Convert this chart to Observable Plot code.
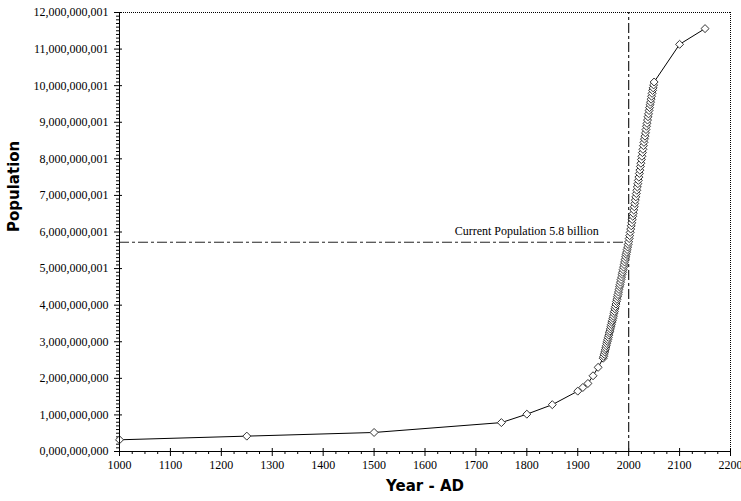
<!DOCTYPE html>
<html>
<head>
<meta charset="utf-8">
<script src="https://cdn.jsdelivr.net/npm/d3@7"></script>
<script src="https://cdn.jsdelivr.net/npm/@observablehq/plot@0.6"></script>
<style>
  html, body { margin: 0; padding: 0; background: #fff; }
  #chart svg { display: block; }
</style>
</head>
<body>
<div id="chart"></div>
<script>
// ---- data (populations in billions) ----
const histYears = [1000, 1250, 1500, 1750, 1800, 1850, 1900, 1910, 1920, 1930, 1940];
const histPop   = [0.32, 0.42, 0.52, 0.79, 1.02, 1.28, 1.65, 1.75, 1.86, 2.07, 2.30];

const annualStart = 1950;
const annualPop = [
  2.55, 2.60, 2.66, 2.72, 2.78, 2.83, 2.89, 2.95, 3.01, 3.06,
  3.12, 3.18, 3.24, 3.29, 3.35, 3.41, 3.47, 3.53, 3.58, 3.64,
  3.70, 3.77, 3.83, 3.90, 3.96, 4.03, 4.10, 4.16, 4.23, 4.29,
  4.36, 4.43, 4.50, 4.56, 4.63, 4.70, 4.77, 4.84, 4.90, 4.97,
  5.04, 5.11, 5.18, 5.25, 5.32, 5.39, 5.45, 5.52, 5.59, 5.66,
  5.73, 5.82, 5.90, 5.99, 6.08, 6.17, 6.25, 6.34, 6.43, 6.51,
  6.60, 6.69, 6.78, 6.87, 6.96, 7.05, 7.14, 7.23, 7.32, 7.41,
  7.50, 7.60, 7.69, 7.79, 7.88, 7.98, 8.07, 8.17, 8.26, 8.36,
  8.45, 8.54, 8.62, 8.71, 8.80, 8.89, 8.97, 9.06, 9.15, 9.23,
  9.32, 9.40, 9.48, 9.55, 9.63, 9.71, 9.79, 9.87, 9.94, 10.02,
  10.10
];

const projYears = [2100, 2150];
const projPop   = [11.13, 11.56];

const xTicks = [1000, 1100, 1200, 1300, 1400, 1500, 1600, 1700, 1800, 1900, 2000, 2100, 2200];
const yTicks = [0, 1e9, 2e9, 3e9, 4e9, 5e9, 6e9, 7e9, 8e9, 9e9, 10e9, 11e9, 12e9];
const yTickLabels = [
  "0,000,000,000", "1,000,000,000", "2,000,000,000", "3,000,000,000", "4,000,000,000",
  "5,000,000,001", "6,000,000,001", "7,000,000,001", "8,000,000,001", "9,000,000,001",
  "10,000,000,001", "11,000,000,001", "12,000,000,001"
];

const currentYear = 2000;
const currentPop = 5.72e9;
const currentLabel = "Current Population 5.8 billion";
const xTitle = "Year - AD";
const yTitle = "Population";

// ---- build table ----
const data = [];
histYears.forEach((yr, i) => data.push({year: yr, pop: histPop[i] * 1e9}));
annualPop.forEach((p, i) => data.push({year: annualStart + i, pop: p * 1e9}));
projYears.forEach((yr, i) => data.push({year: yr, pop: projPop[i] * 1e9}));

const xDomain = [1000, 2200];
const yDomain = [0, 12e9];
const xMinor = d3.range(xDomain[0], xDomain[1] + 1, 25).filter(v => v % 100 !== 0);
const yMinor = d3.range(0, 12e9 + 1, 1e8).filter(v => Math.round(v / 1e8) % 10 !== 0);

const W = 741, H = 501;
const mL = 119, mR = 11, mT = 12, mB = 50;
const pxYear = (W - mL - mR) / (xDomain[1] - xDomain[0]);
const pxPop = (H - mT - mB) / (yDomain[1] - yDomain[0]);

const serif = "'Liberation Serif', 'Times New Roman', serif";
const sans = "'DejaVu Sans', Verdana, sans-serif";

const chart = Plot.plot({
  width: W,
  height: H,
  marginLeft: mL, marginRight: mR, marginTop: mT, marginBottom: mB,
  style: {fontFamily: serif, fontSize: "12px", color: "#000", background: "#fff"},
  x: {domain: xDomain, label: null},
  y: {domain: yDomain, label: null},
  marks: [
    // frame: dotted top/right, solid left/bottom
    Plot.ruleY([12e9], {stroke: "#000", strokeDasharray: "1,1", strokeWidth: 1}),
    Plot.ruleX([2200], {stroke: "#000", strokeDasharray: "1,1", strokeWidth: 1}),
    // minor ticks
    Plot.ruleX(xMinor, {y1: 0, y2: -3 / pxPop, stroke: "#000"}),
    Plot.ruleY(yMinor, {x1: xDomain[0] - 3 / pxYear, x2: xDomain[0], stroke: "#000"}),
    // major ticks, inner part
    Plot.ruleX(xTicks, {y1: 0, y2: 3 / pxPop, stroke: "#000"}),
    Plot.ruleY(yTicks, {x1: xDomain[0], x2: xDomain[0] + 3 / pxYear, stroke: "#000"}),
    Plot.axisX({ticks: xTicks, tickSize: 5, tickPadding: 4, tickFormat: d => String(d), fontSize: 12, label: null}),
    Plot.axisY({ticks: yTicks, tickSize: 5, tickPadding: 6, tickFormat: d => yTickLabels[yTicks.indexOf(d)], fontSize: 12, label: null}),
    // current-population reference lines
    Plot.ruleY([currentPop], {x1: xDomain[0], x2: currentYear, stroke: "#222", strokeDasharray: "10,3,3,3", strokeWidth: 1}),
    Plot.ruleX([currentYear], {y1: 0, y2: 12e9, stroke: "#222", strokeDasharray: "10,3,3,3", strokeWidth: 1.2}),
    Plot.text([currentLabel], {x: currentYear, y: currentPop, text: d => d, textAnchor: "end", dx: -30, dy: -11, fontSize: 12, fontFamily: serif, fill: "#000"}),
    // data
    Plot.line(data, {x: "year", y: "pop", stroke: "#000", strokeWidth: 1}),
    Plot.dot(data, {x: "year", y: "pop", symbol: "diamond2", r: 3.6, fill: "#fff", stroke: "#333", strokeWidth: 1}),
    // axis lines
    Plot.ruleY([0], {stroke: "#000"}),
    Plot.ruleX([xDomain[0]], {stroke: "#000"}),
    // axis titles
    Plot.text([xTitle], {frameAnchor: "bottom", dy: 39, text: d => d, fontSize: 15, fontWeight: "bold", fontFamily: sans, fill: "#000"}),
    Plot.text([yTitle], {frameAnchor: "left", dx: -105, rotate: -90, text: d => d, fontSize: 15, fontWeight: "bold", fontFamily: sans, fill: "#000"})
  ]
});

document.getElementById("chart").appendChild(chart);
</script>
</body>
</html>
